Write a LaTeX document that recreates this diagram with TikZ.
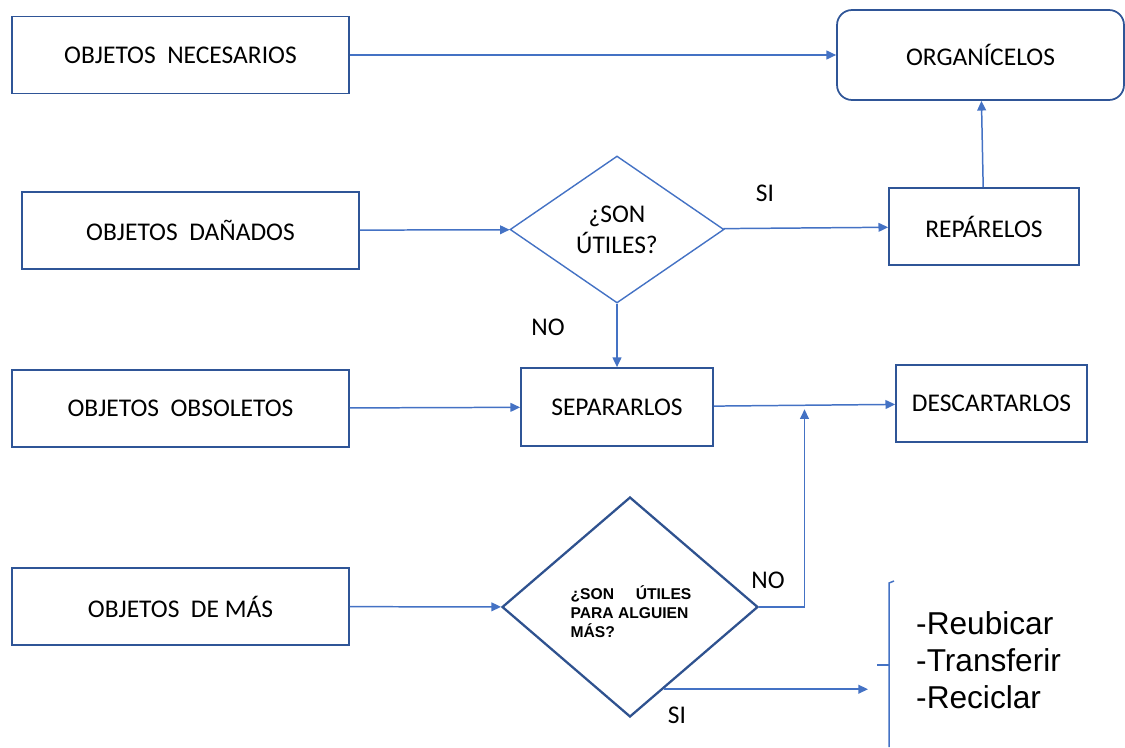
\documentclass[tikz,border=0pt]{standalone}
\usepackage{fontspec}
\setmainfont{Carlito}
\newfontfamily\arial{Liberation Sans}
\usetikzlibrary{arrows.meta, positioning, shapes.geometric, calc}
\definecolor{LineaAzul}{RGB}{68, 114, 196}
\definecolor{BordeAzul}{RGB}{47, 85, 151}
\definecolor{RomboOscuro}{RGB}{47, 82, 143}

\begin{document}
\begin{tikzpicture}[x=0.02cm, y=-0.02cm,
    every node/.style={font=\fontsize{14.5}{17.6}\selectfont},
    caja/.style={draw=BordeAzul, line width=1pt, minimum height=1.54cm, inner sep=2pt},
    rombo/.style={diamond, draw=LineaAzul, line width=0.8pt, inner sep=0pt, align=center},
    flecha/.style={draw=LineaAzul, line width=0.85pt, -{Triangle[length=5.5pt,width=5pt]}},
    linea/.style={draw=LineaAzul, line width=0.85pt}]
    \useasboundingbox (0,0) rectangle (1125,747);
    \node[caja, minimum width=6.74cm] (necesarios) at (180.5,55) {OBJETOS\ \ NECESARIOS};
    \node[caja, minimum width=5.74cm, minimum height=1.8cm, rounded corners=0.3cm] (organicelos) at (980.5,55) {ORGANÍCELOS};
    \node[caja, minimum width=6.74cm] (danados) at (190.5,230.5) {OBJETOS\ \ DAÑADOS};
    \node[rombo, minimum width=4.28cm, minimum height=2.94cm] (utiles) at (617,229.5) {¿SON\\ÚTILES?};
    \node[caja, minimum width=3.8cm] (reparelos) at (984,226.5) {REPÁRELOS};
    \node[caja, minimum width=6.74cm] (obsoletos) at (180.5,408.5) {OBJETOS\ \ OBSOLETOS};
    \node[caja, minimum width=3.84cm, minimum height=1.56cm] (separarlos) at (617,407) {SEPARARLOS};
    \node[caja, minimum width=3.82cm] (descartarlos) at (991.5,403.5) {DESCARTARLOS};
    \node[caja, minimum width=6.74cm] (demas) at (180.5,606.5) {OBJETOS\ \ DE MÁS};
    \node[rombo, draw=RomboOscuro, line width=1.3pt, minimum width=5.12cm, minimum height=4.4cm] (alguien) at (630,607) {};
    \node[align=left, font=\arial\bfseries\fontsize{8.9}{10.8}\selectfont] (alguientxt) at (631,612) {¿SON\ \ \ \ \ ÚTILES\\PARA ALGUIEN\\MÁS?};
    \node[anchor=west, align=left, font=\arial\fontsize{18}{21}\selectfont] (opciones) at (910,660) {-Reubicar\\-Transferir\\-Reciclar};

    \node (si1) at (765,193) {SI};
    \node (no1) at (548,327) {NO};
    \node (no2) at (768,580) {NO};
    \node (si2) at (677,715) {SI};

    \coordinate (cruce) at ($(separarlos.east)!0.5!(descartarlos.west)+(0,4)$);
    \coordinate (siorigen) at ($(alguien.east)!0.74!(alguien.south)$);
    \coordinate (llave) at (868,688);

    \draw[flecha] (necesarios) -- (organicelos);
    \draw[flecha] (danados) -- (utiles);
    \draw[flecha] (utiles) -- (reparelos);
    \draw[flecha] (reparelos) -- (organicelos);
    \draw[flecha] (utiles) -- (separarlos);
    \draw[flecha] (obsoletos) -- (separarlos);
    \draw[flecha] (separarlos) -- (descartarlos);
    \draw[flecha] (demas) -- (alguien);
    \draw[flecha] (alguien.east) -| (cruce);
    \draw[flecha] (siorigen) -- (siorigen -| llave);

    \draw[linea] (894,581) -- (889,583) -- (889,747);
    \draw[linea] (877,665) -- (889,665);
\end{tikzpicture}
\end{document}
